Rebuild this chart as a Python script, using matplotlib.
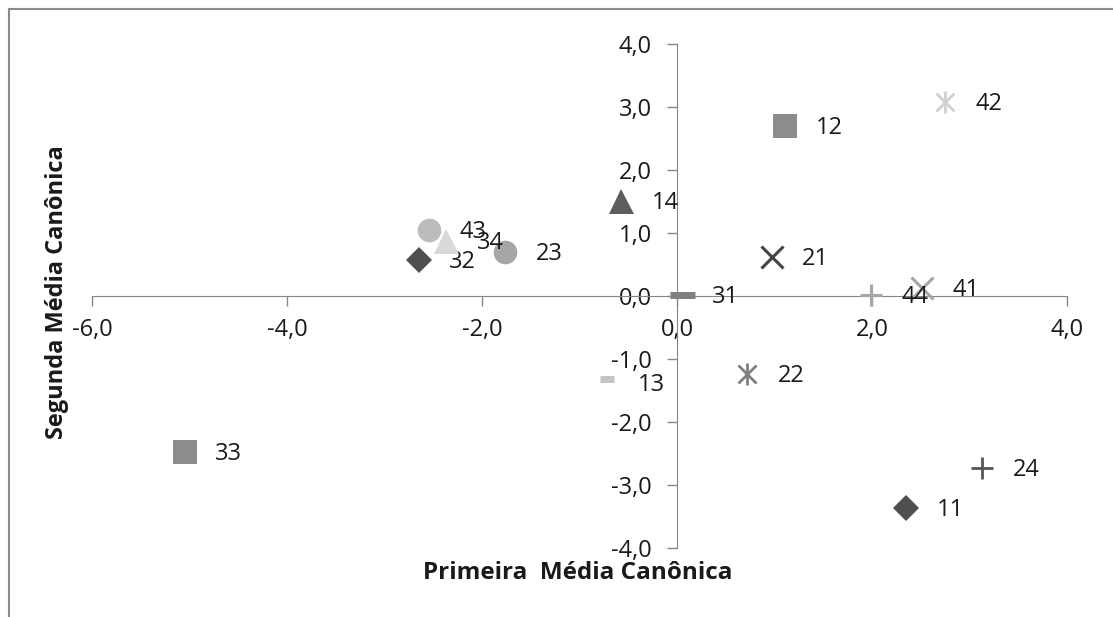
import matplotlib
matplotlib.use("Agg")
import matplotlib.pyplot as plt
from matplotlib.patches import Rectangle
from matplotlib.ticker import FuncFormatter, MultipleLocator

plt.rcParams['font.family'] = ['Open Sans', 'DejaVu Sans']

# canonical means
labels = ['11', '12', '13', '14', '21', '22', '23', '24',
          '31', '32', '33', '34', '41', '42', '43', '44']
x_vals = [2.35, 1.11, -0.72, -0.57, 0.97, 0.72, -1.76, 3.13,
          0.05, -2.65, -5.05, -2.37, 2.51, 2.75, -2.54, 1.99]
y_vals = [-3.37, 2.70, -1.32, 1.51, 0.62, -1.24, 0.70, -2.73,
          0.02, 0.57, -2.48, 0.87, 0.13, 3.08, 1.05, 0.02]

# marker style per label: (marker, colour, size, edge width)
style = {
    '11': ('D', '#4f4f4f', 13, 0),
    '12': ('s', '#8c8c8c', 17, 0),
    '13': ('_', '#c4c4c4', 10, 5),
    '14': ('^', '#5e5e5e', 18, 0),
    '21': ('x', '#444444', 16, 2.2),
    '22': ('ast', '#7f7f7f', 16, 2.0),
    '23': ('o', '#a6a6a6', 17, 0),
    '24': ('+', '#555555', 16, 2.0),
    '31': ('_', '#7f7f7f', 18, 5),
    '32': ('D', '#4f4f4f', 13, 0),
    '33': ('s', '#8c8c8c', 17, 0),
    '34': ('^', '#d9d9d9', 18, 0),
    '41': ('x', '#a6a6a6', 16, 2.2),
    '42': ('ast', '#d0d0d0', 16, 2.0),
    '43': ('o', '#bcbcbc', 17, 0),
    '44': ('+', '#a6a6a6', 16, 2.2),
}

fig = plt.figure(figsize=(11.13, 6.17), dpi=100)
ax = fig.add_axes([92/1113, 1 - 548/617, 975/1113, 504/617])

for lab, xv, yv in zip(labels, x_vals, y_vals):
    mk, col, ms, mew = style[lab]
    if mk == 'ast':
        ax.plot(xv, yv, 'x', color=col, ms=ms * 0.85, mew=mew, zorder=3)
        ax.plot(xv, yv, '|', color=col, ms=ms, mew=mew, zorder=3)
    elif mk in ('x', '+', '_'):
        ax.plot(xv, yv, mk, color=col, ms=ms, mew=mew, zorder=3,
                solid_capstyle='butt')
    else:
        ax.plot(xv, yv, mk, color=col, ms=ms, mec=col, mew=0, zorder=3)
    dy = -4 if lab == '13' else -1.5
    ax.annotate(lab, (xv, yv), xytext=(22, dy), textcoords='offset points',
                va='center', ha='left', fontsize=17, color='#1a1a1a')

ax.set_xlim(-6, 4)
ax.set_ylim(-4, 4)
ax.xaxis.set_major_locator(MultipleLocator(2))
ax.yaxis.set_major_locator(MultipleLocator(1))
fmt = FuncFormatter(lambda v, p: ('%.1f' % v).replace('.', ','))
ax.xaxis.set_major_formatter(fmt)
ax.yaxis.set_major_formatter(fmt)

axis_col = '#868686'
for s in ('top', 'right'):
    ax.spines[s].set_visible(False)
ax.spines['left'].set_position(('data', 0))
ax.spines['bottom'].set_position(('data', 0))
ax.spines['left'].set_color(axis_col)
ax.spines['bottom'].set_color(axis_col)
ax.tick_params(axis='both', direction='out', length=7, width=1,
               color=axis_col, labelsize=17, labelcolor='#1a1a1a')
ax.tick_params(axis='x', pad=9)
ax.tick_params(axis='y', pad=11)
ax.patch.set_visible(False)

fig.text(578/1113, 1 - 573/617, 'Primeira  Média Canônica', ha='center',
         va='center', fontsize=17.5, fontweight='bold', color='#1a1a1a')
fig.text(57/1113, 1 - 292/617, 'Segunda Média Canônica', ha='center',
         va='center', rotation=90, fontsize=17, fontweight='bold',
         color='#1a1a1a')

fig.patches.append(Rectangle((8.5/1113, -0.1), 1.2, 1.1 - 8.5/617,
                             transform=fig.transFigure, fill=False,
                             edgecolor='#8a8a8a', lw=1.5))

fig.savefig('out.png', dpi=100)
